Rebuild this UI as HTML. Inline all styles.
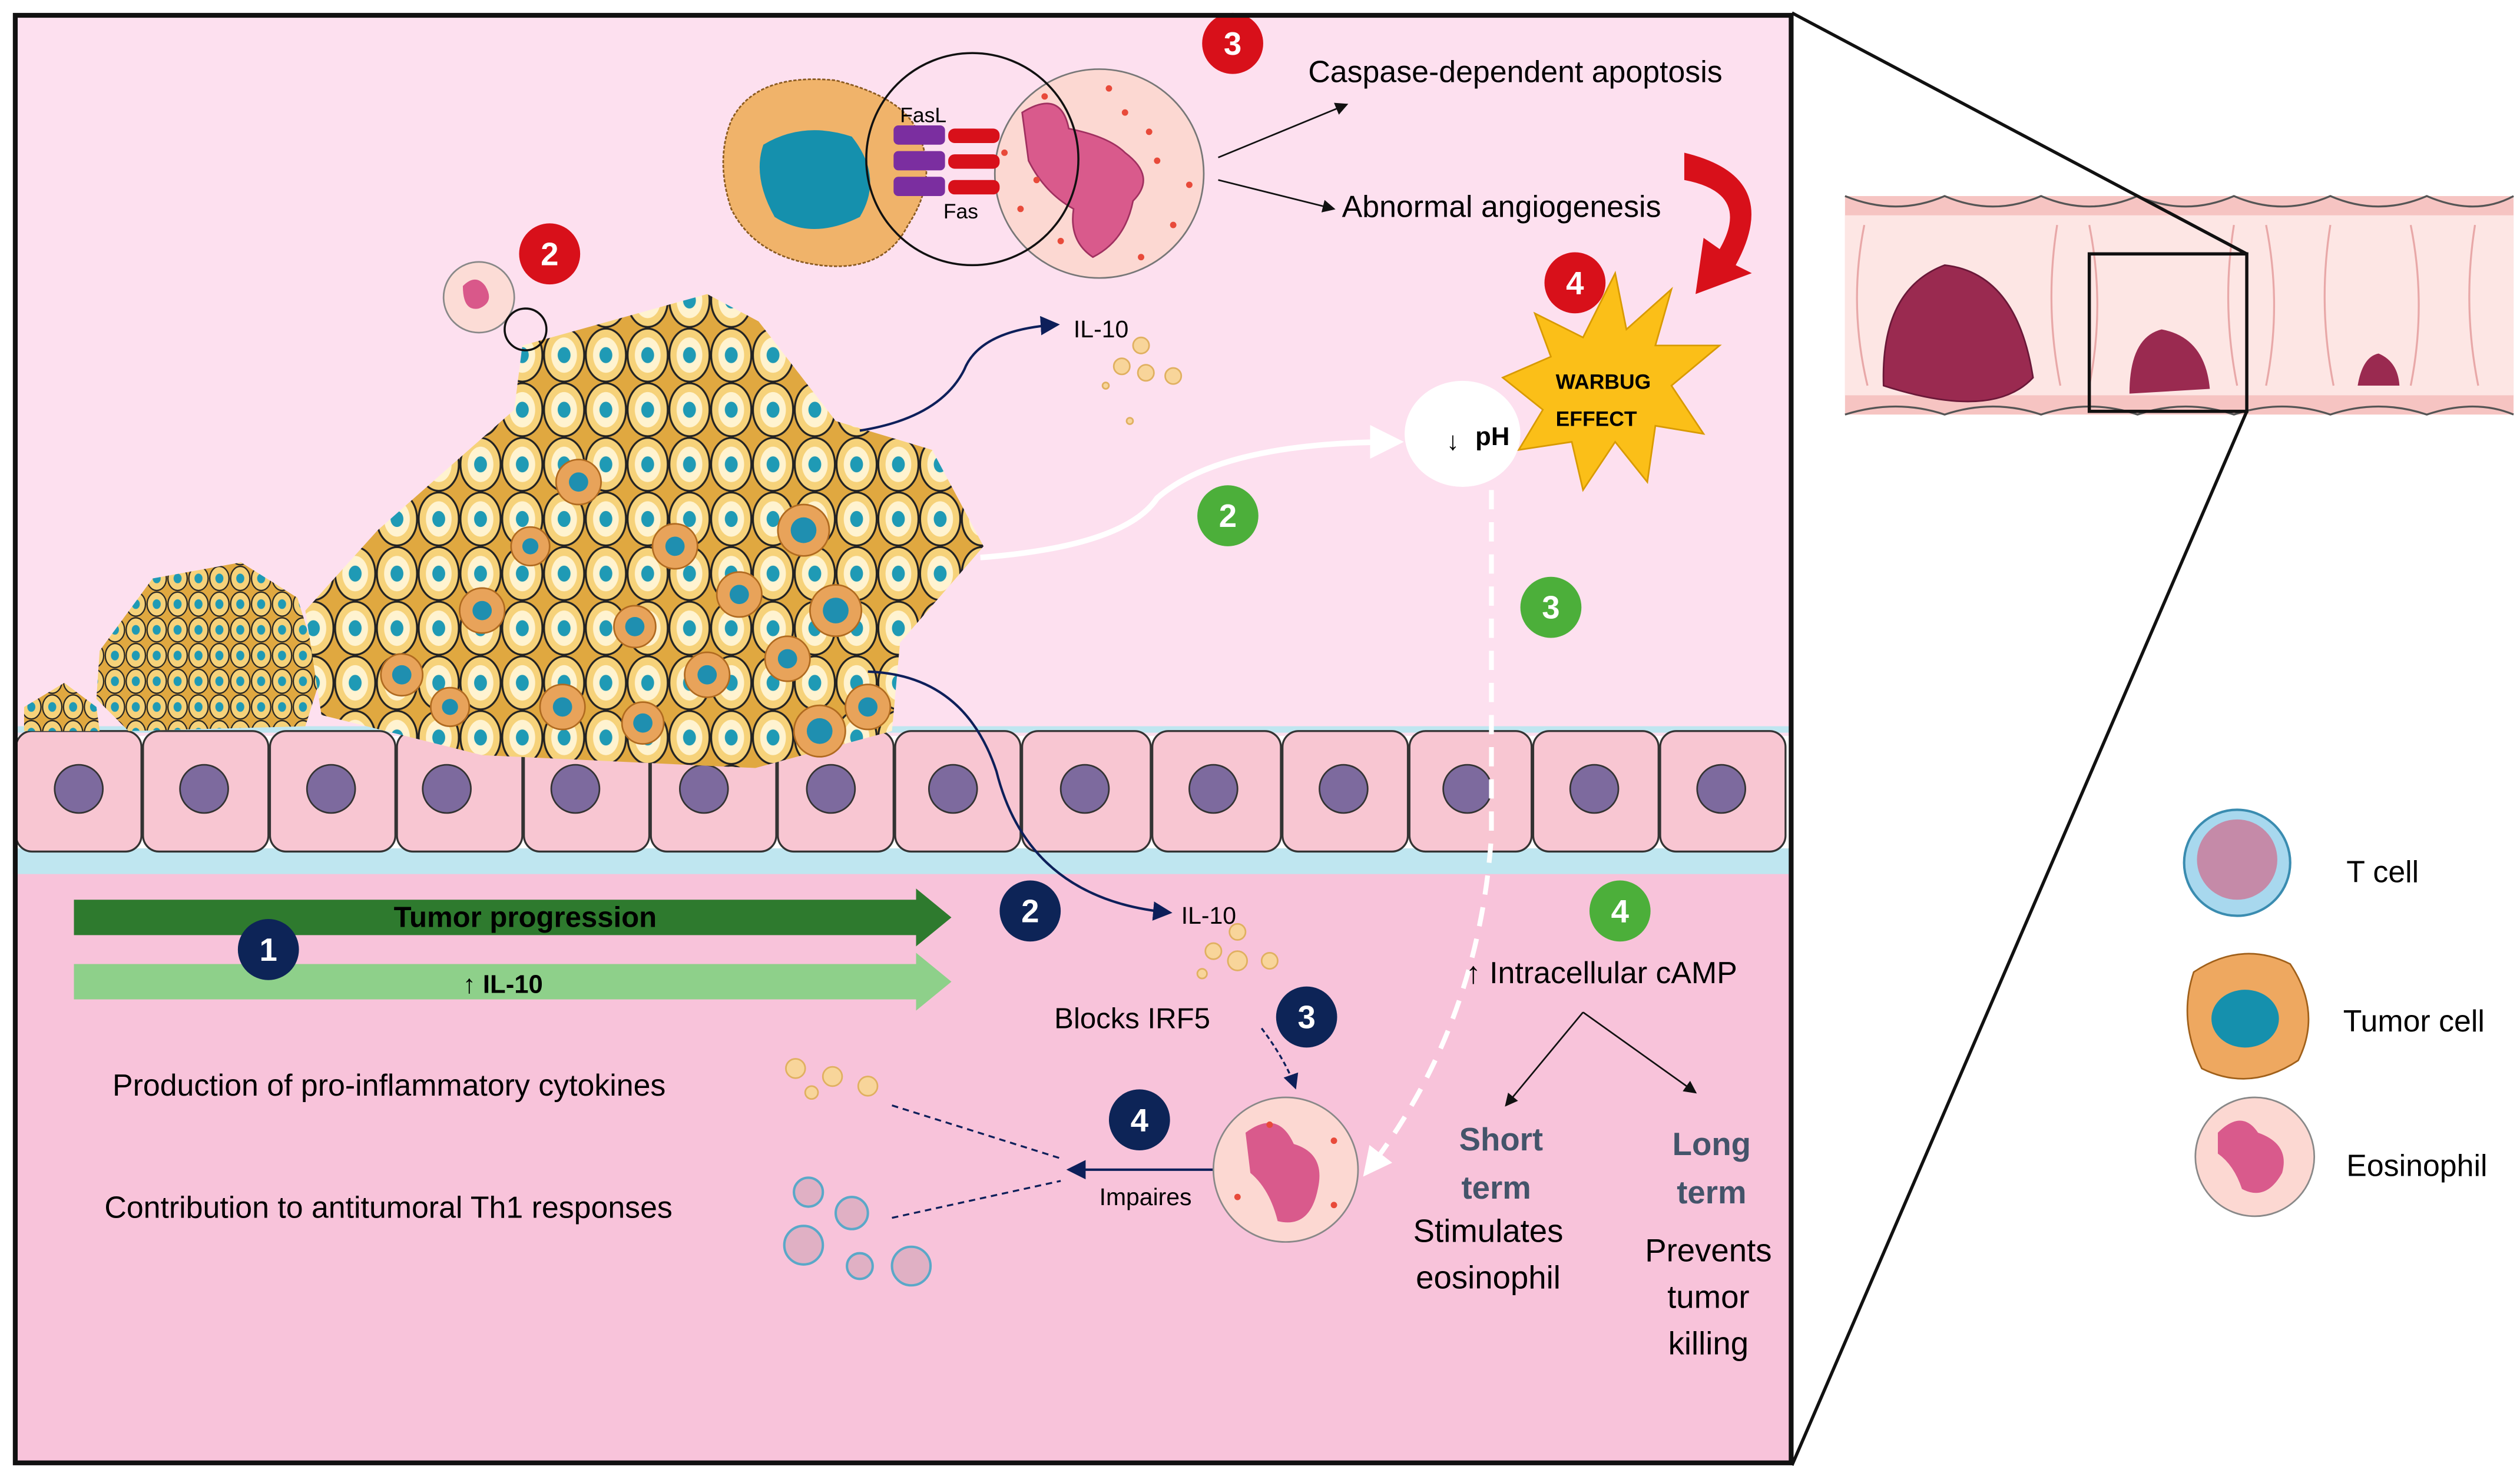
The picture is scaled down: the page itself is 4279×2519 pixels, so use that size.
<!DOCTYPE html>
<html><head><meta charset="utf-8"><style>
html,body{margin:0;padding:0;background:#fff;width:4279px;height:2519px;overflow:hidden}
svg{display:block}
text{font-family:"Liberation Sans",sans-serif}
</style></head><body>
<svg width="4279" height="2519" viewBox="0 0 1568 923" xmlns="http://www.w3.org/2000/svg">
<defs>
<pattern id="tc" width="26" height="34" patternUnits="userSpaceOnUse">
<rect width="26" height="34" fill="#e0a840"/>
<ellipse cx="13" cy="17" rx="12.5" ry="16.5" fill="#f6d27a" stroke="#222" stroke-width="1.2"/>
<ellipse cx="13" cy="17" rx="8" ry="11" fill="#fff3d0"/>
<ellipse cx="13" cy="17" rx="4" ry="5" fill="#1f9ab5"/>
</pattern>
<pattern id="tc2" width="13" height="16" patternUnits="userSpaceOnUse">
<rect width="13" height="16" fill="#e0a840"/>
<ellipse cx="6.5" cy="8" rx="6" ry="7.5" fill="#f6d27a" stroke="#222" stroke-width="0.8"/>
<ellipse cx="6.5" cy="8" rx="2.5" ry="3" fill="#1f9ab5"/>
</pattern>
<marker id="ab" markerWidth="8" markerHeight="8" refX="7" refY="4" orient="auto"><path d="M0,0L8,4L0,8z" fill="#111"/></marker>
<marker id="an" markerWidth="8" markerHeight="8" refX="7" refY="4" orient="auto"><path d="M0,0L8,4L0,8z" fill="#0d1f5a"/></marker>
<marker id="aw" markerWidth="6" markerHeight="6" refX="5" refY="3" orient="auto"><path d="M0,0L6,3L0,6z" fill="#fff"/></marker>
</defs>
<rect width="1568" height="923" fill="#fff"/>
<rect x="8" y="8" width="1107" height="450" fill="#fde0ef"/>
<rect x="8" y="452" width="1107" height="4" fill="#bfe6f0"/>
<rect x="8" y="540" width="1107" height="372" fill="#f8c3da"/>
<rect x="8" y="528" width="1107" height="16" fill="#bfe6f0"/>
<g stroke="#333" stroke-width="1.2">
<rect x="10" y="455" width="78" height="75" rx="10" fill="#f8c6d2"/>
<rect x="89" y="455" width="78" height="75" rx="10" fill="#f8c6d2"/>
<rect x="168" y="455" width="78" height="75" rx="10" fill="#f8c6d2"/>
<rect x="247" y="455" width="78" height="75" rx="10" fill="#f8c6d2"/>
<rect x="326" y="455" width="78" height="75" rx="10" fill="#f8c6d2"/>
<rect x="405" y="455" width="78" height="75" rx="10" fill="#f8c6d2"/>
<rect x="484" y="455" width="72" height="75" rx="10" fill="#f8c6d2"/>
<rect x="557" y="455" width="78" height="75" rx="10" fill="#f8c6d2"/>
<rect x="636" y="455" width="80" height="75" rx="10" fill="#f8c6d2"/>
<rect x="717" y="455" width="80" height="75" rx="10" fill="#f8c6d2"/>
<rect x="798" y="455" width="78" height="75" rx="10" fill="#f8c6d2"/>
<rect x="877" y="455" width="76" height="75" rx="10" fill="#f8c6d2"/>
<rect x="954" y="455" width="78" height="75" rx="10" fill="#f8c6d2"/>
<rect x="1033" y="455" width="78" height="75" rx="10" fill="#f8c6d2"/>
</g>
<g fill="#7d6a9e" stroke="#333" stroke-width="1">
<circle cx="49" cy="491" r="15"/><circle cx="127" cy="491" r="15"/><circle cx="206" cy="491" r="15"/><circle cx="278" cy="491" r="15"/><circle cx="358" cy="491" r="15"/><circle cx="438" cy="491" r="15"/><circle cx="517" cy="491" r="15"/><circle cx="593" cy="491" r="15"/><circle cx="675" cy="491" r="15"/><circle cx="755" cy="491" r="15"/><circle cx="836" cy="491" r="15"/><circle cx="913" cy="491" r="15"/><circle cx="992" cy="491" r="15"/><circle cx="1071" cy="491" r="15"/>
</g>
<path d="M62,405 L95,360 L150,350 L185,372 L200,420 L190,452 L80,455 L60,435 Z" fill="url(#tc2)"/>
<path d="M15,440 L40,425 L60,440 L62,455 L15,455Z" fill="url(#tc2)"/>
<path d="M190,380 L235,330 L320,255 L325,215 L440,183 L472,200 L520,262 L580,280 L612,340 L560,400 L555,455 L470,478 L300,470 L200,445 Z" fill="url(#tc)"/>
<g fill="#e8a35a" stroke="#b06a20" stroke-width="1">
<circle cx="360" cy="300" r="14"/><circle cx="420" cy="340" r="14"/><circle cx="300" cy="380" r="14"/><circle cx="500" cy="330" r="16"/><circle cx="520" cy="380" r="16"/><circle cx="250" cy="420" r="13"/><circle cx="350" cy="440" r="14"/><circle cx="440" cy="420" r="14"/><circle cx="510" cy="455" r="16"/><circle cx="395" cy="390" r="13"/><circle cx="540" cy="440" r="14"/><circle cx="330" cy="340" r="12"/><circle cx="460" cy="370" r="14"/><circle cx="400" cy="450" r="13"/><circle cx="280" cy="440" r="12"/><circle cx="490" cy="410" r="14"/>
</g>
<g fill="#1f8fb0"><circle cx="360" cy="300" r="6"/><circle cx="420" cy="340" r="6"/><circle cx="300" cy="380" r="6"/><circle cx="500" cy="330" r="8"/><circle cx="520" cy="380" r="8"/><circle cx="250" cy="420" r="6"/><circle cx="350" cy="440" r="6"/><circle cx="440" cy="420" r="6"/><circle cx="510" cy="455" r="8"/><circle cx="395" cy="390" r="6"/><circle cx="540" cy="440" r="6"/><circle cx="330" cy="340" r="5"/><circle cx="460" cy="370" r="6"/><circle cx="400" cy="450" r="6"/><circle cx="280" cy="440" r="5"/><circle cx="490" cy="410" r="6"/></g>
<circle cx="298" cy="185" r="22" fill="#fcdcd6" stroke="#888" stroke-width="1"/>
<path d="M288,178 q8,-8 14,0 q6,10 -4,14 q-10,2 -10,-14z" fill="#d9588a"/>
<circle cx="327" cy="205" r="13" fill="none" stroke="#111" stroke-width="1.3"/>
<path d="M455,75 Q470,45 520,50 Q560,60 570,80 Q585,110 565,140 Q550,170 510,165 Q470,160 455,130 Q445,100 455,75Z" fill="#f0b36a" stroke="#8a5a20" stroke-width="1" stroke-dasharray="2 1"/>
<path d="M475,90 Q500,75 530,85 Q550,110 535,135 Q505,150 482,135 Q468,110 475,90Z" fill="#1590ad"/>
<circle cx="684" cy="108" r="65" fill="#fcd8d2" stroke="#777" stroke-width="1"/>
<path d="M636,70 Q660,55 665,80 Q690,85 700,95 Q720,110 705,125 Q700,150 680,160 Q665,150 668,130 Q650,120 640,100Z" fill="#d95a8c" stroke="#a03060" stroke-width="1"/>
<g fill="#e84a3a"><circle cx="650" cy="60" r="2"/><circle cx="700" cy="70" r="2"/><circle cx="720" cy="100" r="2"/><circle cx="635" cy="130" r="2"/><circle cx="660" cy="150" r="2"/><circle cx="730" cy="140" r="2"/><circle cx="690" cy="55" r="2"/><circle cx="710" cy="160" r="2"/><circle cx="740" cy="115" r="2"/><circle cx="625" cy="95" r="2"/><circle cx="645" cy="112" r="2"/><circle cx="715" cy="82" r="2"/></g>
<g fill="#7b2ea0"><rect x="556" y="78" width="32" height="12" rx="3"/><rect x="556" y="94" width="32" height="12" rx="3"/><rect x="556" y="110" width="32" height="12" rx="3"/></g>
<g fill="#d8101a"><rect x="590" y="80" width="32" height="9" rx="4"/><rect x="590" y="96" width="32" height="9" rx="4"/><rect x="590" y="112" width="32" height="9" rx="4"/></g>
<circle cx="605" cy="99" r="66" fill="none" stroke="#111" stroke-width="1.3"/>
<text x="560" y="76" font-size="13">FasL</text>
<text x="587" y="136" font-size="13">Fas</text>
<line x1="758" y1="98" x2="838" y2="65" stroke="#111" stroke-width="1" marker-end="url(#ab)"/>
<line x1="758" y1="112" x2="830" y2="130" stroke="#111" stroke-width="1" marker-end="url(#ab)"/>
<text x="814" y="51" font-size="19">Caspase-dependent apoptosis</text>
<text x="835" y="135" font-size="19">Abnormal angiogenesis</text>
<path d="M1048,95 Q1110,110 1080,165 L1090,170 L1055,183 L1060,148 L1070,155 Q1090,120 1048,112Z" fill="#d8101a"/>
<polygon points="1005,170 1012,205 1040,180 1030,215 1070,215 1040,240 1060,270 1030,265 1025,300 1005,275 985,305 978,275 945,280 960,255 935,235 965,222 955,195 985,210" fill="#fbbf18" stroke="#d89a00" stroke-width="1"/>
<text x="968" y="242" font-size="13" font-weight="bold">WARBUG</text>
<text x="968" y="265" font-size="13" font-weight="bold">EFFECT</text>
<ellipse cx="910" cy="270" rx="36" ry="33" fill="#fff"/>
<text x="918" y="277" font-size="16" font-weight="bold">pH</text>
<text x="900" y="280" font-size="16">↓</text>
<path d="M535,268 Q585,260 600,230 Q610,205 658,202" fill="none" stroke="#0d1f5a" stroke-width="1.5" marker-end="url(#an)"/>
<text x="668" y="210" font-size="15">IL-10</text>
<g fill="#f8d59a" stroke="#e0b060" stroke-width="1"><circle cx="710" cy="215" r="5"/><circle cx="698" cy="228" r="5"/><circle cx="713" cy="232" r="5"/><circle cx="730" cy="234" r="5"/><circle cx="688" cy="240" r="2"/><circle cx="703" cy="262" r="2"/></g>
<path d="M610,347 Q700,340 720,310 Q760,275 870,275" fill="none" stroke="#fff" stroke-width="3.5" marker-end="url(#aw)"/>
<path d="M928,305 L928,520 Q920,640 850,730" fill="none" stroke="#fff" stroke-width="3" stroke-dasharray="12 8" marker-end="url(#aw)"/>
<path d="M540,418 Q600,420 620,480 Q640,560 728,568" fill="none" stroke="#0d1f5a" stroke-width="1.5" marker-end="url(#an)"/>
<text x="735" y="575" font-size="15">IL-10</text>
<g fill="#f8d59a" stroke="#e0b060" stroke-width="1"><circle cx="770" cy="580" r="5"/><circle cx="755" cy="592" r="5"/><circle cx="770" cy="598" r="6"/><circle cx="790" cy="598" r="5"/><circle cx="748" cy="606" r="3"/></g>
<polygon points="46,560 570,560 570,553 592,571 570,589 570,582 46,582" fill="#2e7a2e"/>
<text x="245" y="577" font-size="18" font-weight="bold">Tumor progression</text>
<polygon points="46,600 570,600 570,593 592,611 570,629 570,622 46,622" fill="#8ed08a"/>
<text x="288" y="618" font-size="16" font-weight="bold">↑  IL-10</text>
<g font-size="20" font-weight="bold" fill="#fff" text-anchor="middle">
<circle cx="767" cy="27" r="19" fill="#d8101a"/><text x="767" y="34">3</text>
<circle cx="342" cy="158" r="19" fill="#d8101a"/><text x="342" y="165">2</text>
<circle cx="980" cy="176" r="19" fill="#d8101a"/><text x="980" y="183">4</text>
<circle cx="764" cy="321" r="19" fill="#4caf3a"/><text x="764" y="328">2</text>
<circle cx="965" cy="378" r="19" fill="#4caf3a"/><text x="965" y="385">3</text>
<circle cx="1008" cy="567" r="19" fill="#4caf3a"/><text x="1008" y="574">4</text>
<circle cx="167" cy="591" r="19" fill="#0d2457"/><text x="167" y="598">1</text>
<circle cx="641" cy="567" r="19" fill="#0d2457"/><text x="641" y="574">2</text>
<circle cx="813" cy="633" r="19" fill="#0d2457"/><text x="813" y="640">3</text>
<circle cx="709" cy="697" r="19" fill="#0d2457"/><text x="709" y="704">4</text>
</g>
<text x="656" y="640" font-size="18">Blocks IRF5</text>
<path d="M785,640 Q800,660 806,677" fill="none" stroke="#0d1f5a" stroke-width="1.2" stroke-dasharray="3 2" marker-end="url(#an)"/>
<text x="70" y="682" font-size="19">Production of pro-inflammatory cytokines</text>
<text x="65" y="758" font-size="19">Contribution to antitumoral Th1 responses</text>
<g fill="#f8d59a" stroke="#e0b060"><circle cx="495" cy="665" r="6"/><circle cx="518" cy="670" r="6"/><circle cx="540" cy="676" r="6"/><circle cx="505" cy="680" r="4"/></g>
<g fill="#e0b0c4" stroke="#5aa8c8" stroke-width="1.5"><circle cx="503" cy="742" r="9"/><circle cx="530" cy="755" r="10"/><circle cx="500" cy="775" r="12"/><circle cx="535" cy="788" r="8"/><circle cx="567" cy="788" r="12"/></g>
<line x1="555" y1="688" x2="660" y2="721" stroke="#0d1f5a" stroke-width="1.2" stroke-dasharray="4 3"/>
<line x1="555" y1="758" x2="660" y2="735" stroke="#0d1f5a" stroke-width="1.2" stroke-dasharray="4 3"/>
<line x1="755" y1="728" x2="665" y2="728" stroke="#0d1f5a" stroke-width="1.5" marker-end="url(#an)"/>
<text x="684" y="750" font-size="15">Impaires</text>
<circle cx="800" cy="728" r="45" fill="#fcd8d2" stroke="#888"/>
<path d="M775,705 Q795,690 805,712 Q825,718 820,740 Q815,765 795,760 Q790,740 778,730Z" fill="#d95a8c"/>
<g fill="#e84a3a"><circle cx="770" cy="745" r="2"/><circle cx="830" cy="710" r="2"/><circle cx="790" cy="700" r="2"/><circle cx="830" cy="750" r="2"/></g>
<text x="912" y="612" font-size="19">↑ Intracellular cAMP</text>
<line x1="985" y1="630" x2="937" y2="688" stroke="#111" stroke-width="1" marker-end="url(#ab)"/>
<line x1="985" y1="630" x2="1055" y2="680" stroke="#111" stroke-width="1" marker-end="url(#ab)"/>
<g font-size="20" font-weight="bold" fill="#44546a" text-anchor="middle">
<text x="934" y="716">Short</text><text x="931" y="746">term</text>
<text x="1065" y="719">Long</text><text x="1065" y="749">term</text>
</g>
<g font-size="20" text-anchor="middle">
<text x="926" y="773">Stimulates</text><text x="926" y="802">eosinophil</text>
<text x="1063" y="785">Prevents</text><text x="1063" y="814">tumor</text><text x="1063" y="843">killing</text>
</g>
<rect x="9.5" y="9.5" width="1105" height="901" fill="none" stroke="#111" stroke-width="3"/>
<!-- intestine -->
<rect x="1148" y="122" width="416" height="136" fill="#f6c4c2"/>
<rect x="1148" y="134" width="416" height="112" fill="#fde6e4"/>
<g fill="none" stroke="#e8a8a8" stroke-width="1.2">
<path d="M1160,140 Q1150,190 1162,240"/><path d="M1280,140 Q1272,190 1282,240"/><path d="M1300,140 Q1310,190 1300,240"/><path d="M1390,140 Q1382,190 1392,240"/><path d="M1410,140 Q1420,190 1410,240"/><path d="M1450,140 Q1442,190 1452,240"/><path d="M1500,140 Q1510,190 1500,240"/><path d="M1540,140 Q1532,190 1542,240"/>
</g>
<path d="M1148,122 Q1180,135 1210,122 Q1240,135 1270,122 Q1300,135 1330,122 Q1360,135 1390,122 Q1420,135 1450,122 Q1480,135 1510,122 Q1540,135 1564,122" fill="none" stroke="#555" stroke-width="1.2"/>
<path d="M1148,258 Q1180,248 1210,258 Q1240,248 1270,258 Q1300,248 1330,258 Q1360,248 1390,258 Q1420,248 1450,258 Q1480,248 1510,258 Q1540,248 1564,258" fill="none" stroke="#555" stroke-width="1.2"/>
<path d="M1172,240 Q1170,180 1210,165 Q1255,170 1265,235 Q1240,262 1172,240Z" fill="#9a2a50" stroke="#6a1838"/>
<path d="M1325,245 Q1325,210 1345,205 Q1372,210 1375,242Z" fill="#9a2a50"/>
<path d="M1467,240 Q1470,222 1480,220 Q1492,225 1493,240Z" fill="#9a2a50"/>
<rect x="1300" y="158" width="98" height="98" fill="none" stroke="#111" stroke-width="2"/>
<line x1="1398" y1="158" x2="1115" y2="8" stroke="#111" stroke-width="2"/>
<line x1="1398" y1="256" x2="1115" y2="912" stroke="#111" stroke-width="2"/>
<!-- legend -->
<circle cx="1392" cy="537" r="33" fill="#a8d8ee" stroke="#3a8cb0" stroke-width="1.5"/>
<circle cx="1392" cy="535" r="25" fill="#c58aa8"/>
<text x="1460" y="549" font-size="19">T cell</text>
<path d="M1365,605 Q1395,585 1425,600 Q1445,630 1430,660 Q1400,680 1370,665 Q1355,635 1365,605Z" fill="#eea860" stroke="#a0601a"/>
<ellipse cx="1397" cy="634" rx="21" ry="18" fill="#1590ad"/>
<text x="1458" y="642" font-size="19">Tumor cell</text>
<circle cx="1403" cy="720" r="37" fill="#fcd8d2" stroke="#888"/>
<path d="M1380,705 Q1395,690 1405,705 Q1425,712 1420,730 Q1410,748 1395,740 Q1390,725 1380,718Z" fill="#d95a8c"/>
<text x="1460" y="732" font-size="19">Eosinophil</text>
</svg>
</body></html>
